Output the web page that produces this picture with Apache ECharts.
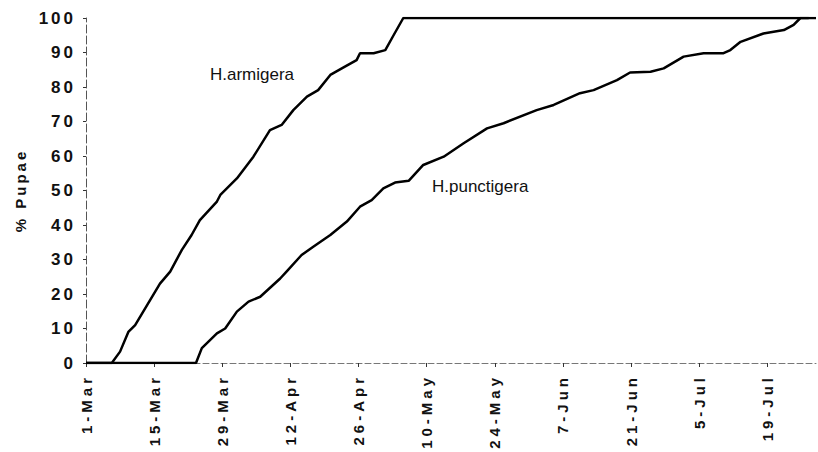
<!DOCTYPE html>
<html>
<head>
<meta charset="utf-8">
<script src="https://cdn.jsdelivr.net/npm/echarts@6/dist/echarts.min.js"></script>
<style>
  html, body { margin: 0; padding: 0; background: #fff; }
  #chart { width: 818px; height: 452px; }
</style>
</head>
<body>
<div id="chart"></div>
<script>
// Tick labels (every 14 days from 1-Mar)
const tickLabels = ['1-Mar','15-Mar','29-Mar','12-Apr','26-Apr','10-May','24-May','7-Jun','21-Jun','5-Jul','19-Jul'];

// H.armigera: days since 1-Mar and cumulative % pupae
const armigeraDays = [0, 5.3, 7, 8.7, 10.1, 13.2, 15.2, 17.3, 19.7, 21.7, 23.4, 26.9, 27.6, 31, 34.4, 37.8, 40.2, 42.6, 45.4, 47.7, 50.2, 53.2, 55.6, 56.3, 59.1, 61.5, 63.2, 65.2, 150];
const armigeraPct  = [0, 0, 3.3, 9, 11, 18.3, 23, 26.5, 32.8, 37.1, 41.4, 46.8, 48.7, 53.5, 59.8, 67.5, 69, 73.3, 77.2, 79.1, 83.5, 85.9, 87.8, 89.8, 89.8, 90.7, 95, 100, 100];

// H.punctigera: days since 1-Mar and cumulative % pupae
const punctigeraDays = [0, 22.6, 23.8, 26.9, 28.6, 31, 33.4, 35.8, 39.9, 41.2, 44.3, 46.7, 50.2, 53.6, 56.3, 58.7, 61.1, 63.5, 66.3, 69.3, 73.5, 77.6, 82.4, 85.8, 92.6, 96.1, 101.5, 104.3, 109.1, 111.8, 116, 118.7, 122.8, 126.9, 131, 132.4, 134.5, 139.2, 143.4, 145.4, 146.8, 148.5];
const punctigeraPct  = [0, 0, 4.3, 8.6, 10, 14.9, 17.8, 19.2, 24.5, 26.5, 31.3, 33.7, 37.1, 41, 45.3, 47.2, 50.6, 52.3, 52.8, 57.4, 59.8, 63.7, 68, 69.5, 73.3, 74.8, 78.2, 79.1, 82, 84.2, 84.4, 85.4, 88.8, 89.8, 89.8, 90.7, 93.1, 95.5, 96.5, 98, 100, 100];

const seriesNames = ['H.armigera', 'H.punctigera'];

function zip(xs, ys) { return xs.map((x, i) => [x, ys[i]]); }

const chart = echarts.init(document.getElementById('chart'), null, { renderer: 'svg' });

const axisFont = 'Liberation Sans, Arial, sans-serif';

chart.setOption({
  animation: false,
  backgroundColor: '#fff',
  grid: { left: 86, right: 2, top: 18, bottom: 89 },
  xAxis: {
    type: 'value', min: 0, max: 150, interval: 14,
    axisLine: { show: true, lineStyle: { color: '#777', width: 1, type: [6, 3] } },
    axisTick: { show: true, inside: false, length: 4, lineStyle: { color: '#333' } },
    splitLine: { show: false },
    axisLabel: {
      rotate: 90, margin: 11, showMaxLabel: false, padding: [0, 0, 8, 0],
      fontFamily: axisFont, fontSize: 15, fontWeight: 'bold', color: '#111',
      formatter: v => { const i = Math.round(v / 14); return (Math.abs(v - i * 14) < 1e-6 && tickLabels[i]) ? tickLabels[i] : ''; }
    }
  },
  yAxis: {
    type: 'value', min: 0, max: 100, interval: 10,
    name: '% Pupae', nameLocation: 'middle', nameRotate: 90, nameGap: 58,
    nameTextStyle: { fontFamily: axisFont, fontSize: 15, fontWeight: 'bold', color: '#111' },
    axisLine: { show: true, lineStyle: { color: '#555', width: 1, type: [8, 3] } },
    axisTick: { show: true, length: 3, lineStyle: { color: '#333' } },
    splitLine: { show: false },
    axisLabel: { margin: 10, fontFamily: axisFont, fontSize: 17, fontWeight: 'bold', color: '#111' }
  },
  series: [
    { name: seriesNames[0], type: 'line', data: zip(armigeraDays, armigeraPct), showSymbol: false,
      lineStyle: { color: '#000', width: 2.5 }, z: 3 },
    { name: seriesNames[1], type: 'line', data: zip(punctigeraDays, punctigeraPct), showSymbol: false,
      lineStyle: { color: '#000', width: 2.5 }, z: 3 }
  ],
  graphic: [
    { type: 'text', left: 210, top: 66, style: { text: seriesNames[0], font: '17px Liberation Sans, Arial, sans-serif', fill: '#111' } },
    { type: 'text', left: 432, top: 178, style: { text: seriesNames[1], font: '17px Liberation Sans, Arial, sans-serif', fill: '#111' } }
  ]
});

function applySpacing() {
  const texts = document.querySelectorAll('#chart svg text');
  const yLabels = ['0','10','20','30','40','50','60','70','80','90','100'];
  texts.forEach(t => {
    const s = t.textContent;
    if (tickLabels.includes(s)) t.setAttribute('letter-spacing', '4');
    else if (yLabels.includes(s)) t.setAttribute('letter-spacing', '3');
    else if (s === '% Pupae') t.setAttribute('letter-spacing', '3');
  });
}
chart.on('finished', applySpacing);
applySpacing();
setTimeout(applySpacing, 50);
</script>
</body>
</html>
